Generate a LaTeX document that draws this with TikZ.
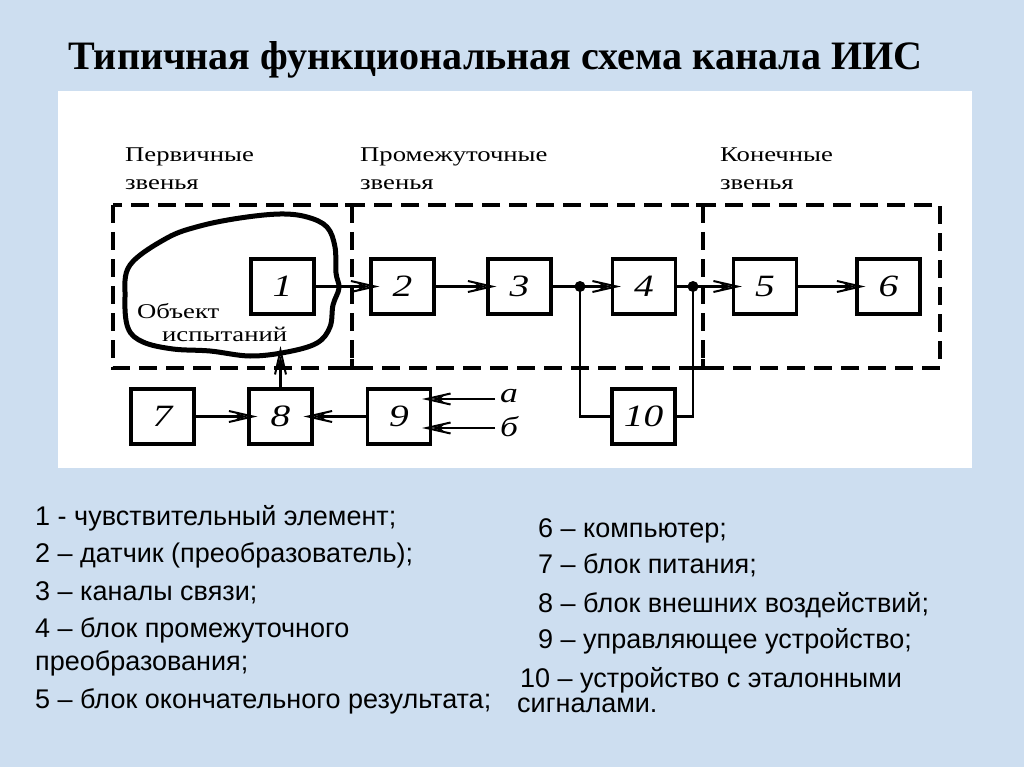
\documentclass[tikz,border=0pt]{standalone}
\usepackage{graphicx}
\usepackage{fontspec}
\setmainfont{Liberation Serif}
\setsansfont{Liberation Sans}
\usetikzlibrary{arrows.meta}
\definecolor{bgblue}{RGB}{205,222,240}
\newcommand\wide[1]{\scalebox{1.27}[1]{#1}}
\begin{document}
\begin{tikzpicture}[x=1pt,y=-1pt,
 blk/.style={draw,line width=3.2pt,minimum width=63pt,minimum height=55pt,inner sep=0pt,fill=white,font=\fontsize{31}{31}\selectfont\itshape},
 wire/.style={line width=2.8pt},
 arr/.style={wire,-{Straight Barb[length=24pt,width=11pt,line width=2pt,sep=-22pt]Stealth[length=12pt,width=7pt]}},
 zone/.style={line width=3.2pt,dash pattern=on 18pt off 9pt},
 tick/.style={line width=3.2pt},
 lbl/.style={anchor=base west,inner sep=0pt,font=\fontsize{21}{21}\selectfont},
 inlbl/.style={anchor=west,inner sep=0pt,font=\fontsize{28}{28}\selectfont\itshape},
 leg/.style={anchor=base west,inner sep=0pt,font=\sffamily\fontsize{27}{27}\selectfont},
 jdot/.style={circle,fill,inner sep=0pt,minimum size=11pt}]
\useasboundingbox (0,0) rectangle (1024,767);
\fill[bgblue] (0,0) rectangle (1024,767);
\fill[white] (58,91) rectangle (972,468);

% title
\node[anchor=base west,inner sep=0pt] (title) at (68,70)
  {\resizebox{854pt}{28pt}{\bfseries Типичная функциональная схема канала ИИС}};

% zone labels
\node[lbl] (z1a) at (125,162) {\wide{Первичные}};
\node[lbl] (z1b) at (125,190) {\wide{звенья}};
\node[lbl] (z2a) at (360,162) {\wide{Промежуточные}};
\node[lbl] (z2b) at (360,190) {\wide{звенья}};
\node[lbl] (z3a) at (720,162) {\wide{Конечные}};
\node[lbl] (z3b) at (720,190) {\wide{звенья}};

% zones
\draw[zone] (113,205) rectangle (940,368);
\draw[zone] (352,205) -- (352,368);
\draw[zone] (703,205) -- (703,368);
\draw[tick] (345,205) -- (359,205) (352,205) -- (352,214);
\draw[tick] (345,368) -- (359,368) (352,368) -- (352,359);
\draw[tick] (696,205) -- (710,205) (703,205) -- (703,214);
\draw[tick] (696,368) -- (710,368) (703,368) -- (703,359);

% blob (object under test)
\draw[line width=5pt,line join=round,fill=white] plot[smooth cycle,tension=0.6] coordinates {
 (130,265) (167,238) (200,226) (240,218) (280,214) (307,217) (327,227) (335,247)
 (336,273) (339,288) (333,305) (330,327) (317,343) (287,352) (250,356) (210,351)
 (173,349) (143,342) (128,328) (125,297)};
\coordinate (blobin) at (280.5,356);
\node[lbl] (obj1) at (137,318) {\wide{Объект}};
\node[lbl] (obj2) at (162,341) {\wide{испытаний}};

% blocks
\node[blk] (b1) at (282.5,286.5) {\wide{1}};
\node[blk] (b2) at (402.5,286.5) {\wide{2}};
\node[blk] (b3) at (519.5,286.5) {\wide{3}};
\node[blk] (b4) at (644,286.5) {\wide{4}};
\node[blk] (b5) at (765,286.5) {\wide{5}};
\node[blk] (b6) at (888.5,286.5) {\wide{6}};
\node[blk] (b7) at (162.5,416.5) {\wide{7}};
\node[blk] (b8) at (280.5,416.5) {\wide{8}};
\node[blk] (b9) at (399,416.5) {\wide{9}};
\node[blk] (b10) at (643.5,416.5) {\wide{10}};

\node[jdot] (j1) at (580,286.5) {};
\node[jdot] (j2) at (693,286.5) {};

% connections
\draw[arr] (b1.east) -- (b2.west);
\draw[arr] (b2.east) -- (b3.west);
\draw[wire] (b3.east) -- (j1.center);
\draw[arr] (j1.center) -- (b4.west);
\draw[wire] (b4.east) -- (j2.center);
\draw[arr] (j2.center) -- (b5.west);
\draw[arr] (b5.east) -- (b6.west);
\draw[wire] (j1.center) |- (b10.west);
\draw[wire] (b10.east) -| (j2.center);
\draw[arr] (b7.east) -- (b8.west);
\draw[arr] (b9.west) -- (b8.east);
\draw[arr] (b8.north) -- (blobin);

\coordinate (ina) at (495,399);
\coordinate (inb) at (495,428);
\draw[arr] (ina) -- (ina -| b9.east);
\draw[arr] (inb) -- (inb -| b9.east);
\node[inlbl] (la) at (500,396) {\wide{а}};
\node[inlbl] (lb) at (500,427) {\wide{б}};

% legend
\node[leg] (l1) at (35,525) {1 - чувствительный элемент;};
\node[leg] (l2) at (35,562) {2 – датчик (преобразователь);};
\node[leg] (l3) at (35,600) {3 – каналы связи;};
\node[leg] (l4) at (35,637) {4 – блок промежуточного};
\node[leg] (l4b) at (35,670) {преобразования;};
\node[leg] (l5) at (35,708) {5 – блок окончательного результата;};
\node[leg] (l6) at (538,537) {6 – компьютер;};
\node[leg] (l7) at (538,573) {7 – блок питания;};
\node[leg] (l8) at (538,612) {8 – блок внешних воздействий;};
\node[leg] (l9) at (538,648) {9 – управляющее устройство;};
\node[leg] (l10) at (520,687) {10 – устройство с эталонными};
\node[leg] (l10b) at (517,712) {сигналами.};
\end{tikzpicture}
\end{document}
